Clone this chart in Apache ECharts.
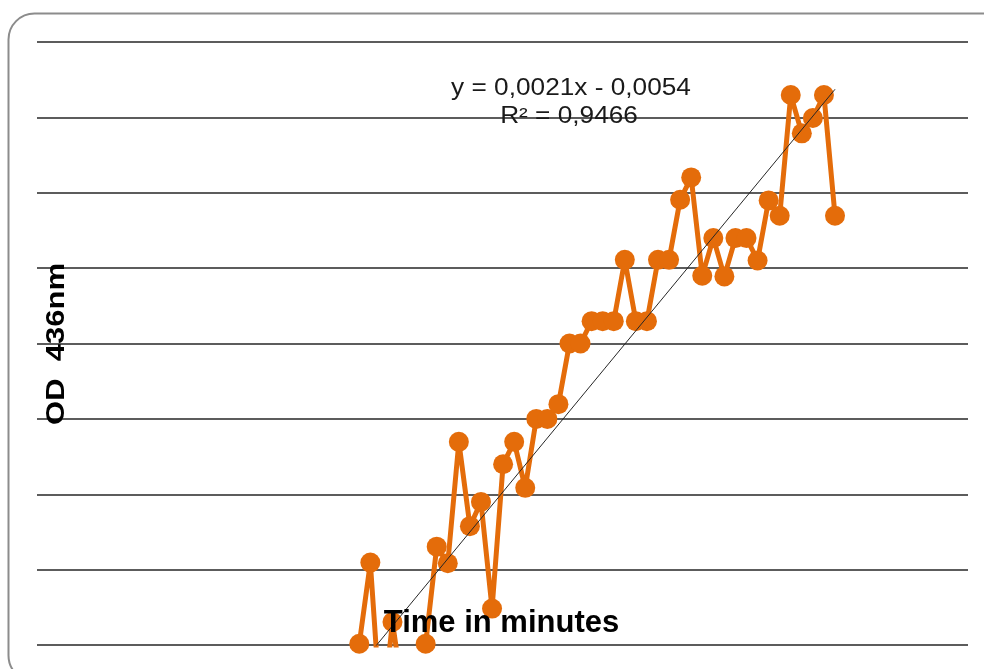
<!DOCTYPE html>
<html>
<head>
<meta charset="utf-8">
<script src="https://cdn.jsdelivr.net/npm/echarts@6/dist/echarts.min.js"></script>
<style>
  html, body { margin: 0; padding: 0; background: #ffffff; }
  #chart { width: 984px; height: 669px; }
</style>
</head>
<body>
<div id="chart"></div>
<script>
// Time points (minutes) and measured optical density at 436 nm
const minutes = [1, 2, 3, 4, 5, 6, 7, 8, 9, 10, 11, 12, 13, 14, 15, 16, 17, 18, 19, 20, 21, 22,
                 23, 24, 25, 26, 27, 28, 29, 30, 31, 32, 33, 34, 35, 36, 37, 38, 39, 40, 41, 42, 43, 44];
const od436 = [0.0002, 0.0129, -0.0125, 0.0036, -0.0083, -0.0060, 0.0002, 0.0154, 0.0128, 0.0318,
               0.0186, 0.0224, 0.0057, 0.0283, 0.0318, 0.0246, 0.0354, 0.0354, 0.0377, 0.0472,
               0.0472, 0.0507, 0.0507, 0.0507, 0.0603, 0.0507, 0.0507, 0.0603, 0.0603, 0.0697,
               0.0732, 0.0578, 0.0637, 0.0577, 0.0637, 0.0637, 0.0602, 0.0696, 0.0672, 0.0861,
               0.0801, 0.0825, 0.0861, 0.0672];

// Linear trendline fitted to the series
const trendSlope = 0.0021;
const trendIntercept = -0.0054;
const rSquared = 0.9466;

// Value axis range (gridlines only, no labels)
const yMin = 0;
const yMax = 0.0944;
const yStep = 0.0118;

const fmt = v => v.toFixed(4).replace('.', ',');
const trendAt = x => trendSlope * x + trendIntercept;
const eqText = 'y = ' + fmt(trendSlope) + 'x ' + (trendIntercept < 0 ? '- ' : '+ ') + fmt(Math.abs(trendIntercept));
const r2Text = 'R\u00B2 = ' + fmt(rSquared);

const orange = '#E46C0A';
const chart = echarts.init(document.getElementById('chart'), null, { renderer: 'canvas' });

chart.setOption({
  animation: false,
  backgroundColor: '#ffffff',
  grid: { left: 37, right: 16, top: 42, bottom: 24, containLabel: false },
  xAxis: {
    type: 'value',
    min: -28.13,
    max: 56.02,
    show: false
  },
  yAxis: {
    type: 'value',
    min: yMin,
    max: yMax,
    interval: yStep,
    axisLabel: { show: false },
    axisLine: { show: false },
    axisTick: { show: false },
    splitLine: { show: true, lineStyle: { color: '#262626', width: 1.5 } }
  },
  series: [
    {
      name: 'OD 436nm',
      type: 'line',
      clip: true,
      data: minutes.map((m, i) => [m, od436[i]]),
      symbol: 'circle',
      symbolSize: 20,
      lineStyle: { color: orange, width: 5 },
      itemStyle: { color: orange },
      z: 2
    },
    {
      name: 'Linear trend',
      type: 'line',
      clip: true,
      data: [[minutes[0], trendAt(minutes[0])], [minutes[minutes.length - 1], trendAt(minutes[minutes.length - 1])]],
      symbol: 'none',
      lineStyle: { color: '#262626', width: 1 },
      z: 3
    }
  ],
  graphic: [
    {
      type: 'rect',
      z: -10,
      shape: { x: 8.5, y: 13.5, width: 1000, height: 668, r: 26 },
      style: { fill: 'none', stroke: '#8c8c8c', lineWidth: 2 }
    },
    {
      type: 'text',
      z: 100,
      x: 571, y: 89, scaleX: 1.14,
      style: { text: eqText, font: '23px "Liberation Sans", Arial, sans-serif', fill: '#1a1a1a',
               textAlign: 'center', textVerticalAlign: 'middle' }
    },
    {
      type: 'text',
      z: 100,
      x: 569, y: 117, scaleX: 1.14,
      style: { text: r2Text, font: '23px "Liberation Sans", Arial, sans-serif', fill: '#1a1a1a',
               textAlign: 'center', textVerticalAlign: 'middle' }
    },
    {
      type: 'text',
      z: 100,
      x: 501.5, y: 623.5,
      style: { text: 'Time in minutes', font: 'bold 31px "Liberation Sans", Arial, sans-serif', fill: '#000000',
               textAlign: 'center', textVerticalAlign: 'middle' }
    },
    {
      type: 'text',
      z: 100,
      x: 57.5, y: 344, rotation: Math.PI / 2, scaleX: 1.24,
      style: { text: 'OD  436nm', font: 'bold 25px "Liberation Sans", Arial, sans-serif', fill: '#000000',
               textAlign: 'center', textVerticalAlign: 'middle' }
    }
  ]
});
</script>
</body>
</html>
